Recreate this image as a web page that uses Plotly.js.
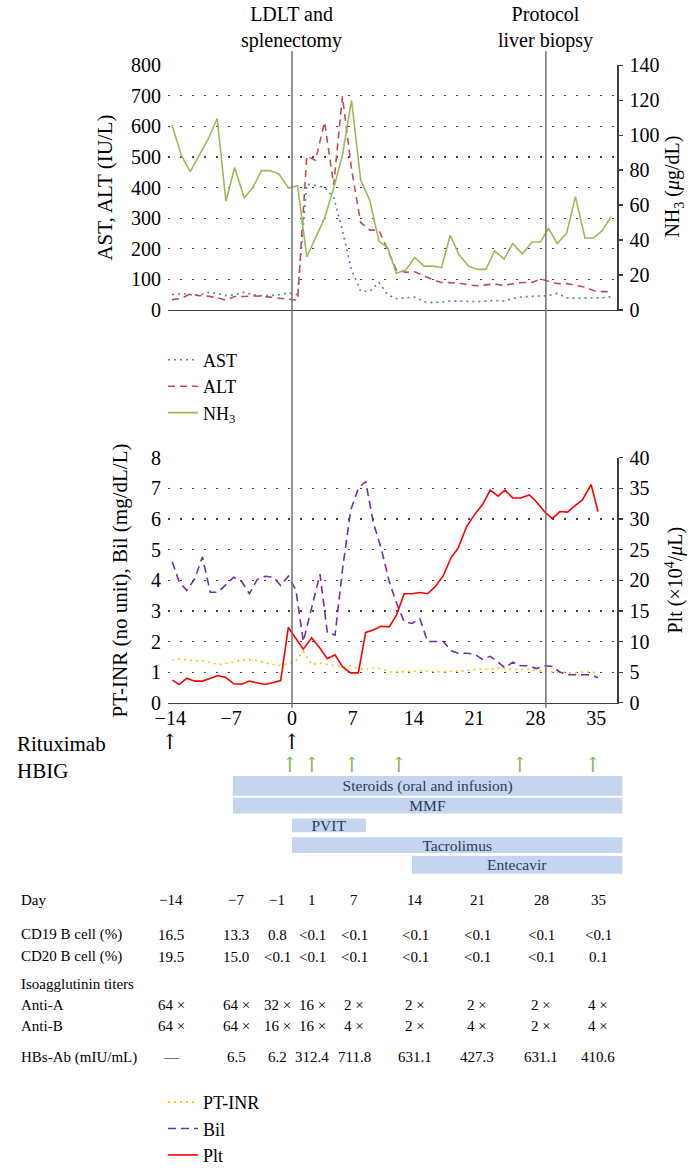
<!DOCTYPE html>
<html><head><meta charset="utf-8">
<script src="https://cdn.plot.ly/plotly-3.0.1.min.js"></script>
<style>html,body{margin:0;padding:0;background:#fff}#chart{width:688px;height:1174px}</style>
</head><body><div id="chart"></div>
<script>
// ---------- DATA ----------
const topDays = [-13.8,-12.7,-11.7,-10.7,-9.6,-8.6,-7.6,-6.6,-5.5,-4.5,-3.5,-2.5,-1.5,-0.4,0.65,1.7,2.7,3.75,4.8,5.8,6.85,7.9,8.95,10.0,11.0,12.0,13.1,14.1,15.2,16.2,17.2,18.2,19.2,20.3,21.3,22.3,23.3,24.4,25.4,26.5,27.6,28.6,29.5,30.5,31.6,32.6,33.7,34.7,35.7,36.7];
const astValues = [50,54,50,47,58,54,47,50,58,50,47,47,50,56,50,411,407,400,368,261,131,61,61,90,50,37,40,42,27,24,26,29,29,27,27,29,31,29,38,43,45,47,47,54,40,38,38,40,40,43];
const altValues = [34,38,53,47,45,40,32,44,44,46,45,42,38,34,32,503,489,614,409,698,460,286,261,261,195,131,123,125,111,99,90,88,88,82,79,82,85,80,86,90,90,101,93,86,86,80,75,63,60,60];
const nh3Values = [105.7,88.1,79.1,88.5,98.2,109.5,62.2,81.5,64.1,70.1,79.7,79.7,77.8,69.7,71.0,30.4,41.6,52.5,69.7,88.5,119.8,74.4,62.6,39.4,35.6,21.0,22.9,30.0,25.1,25.1,24.2,42.7,31.7,25.1,23.2,23.2,33.8,29.1,38.0,32.0,38.9,38.9,46.8,38.0,44.0,64.8,41.2,41.2,45.5,53.4];

const bottomDays = [-13.77,-12.96,-12.1,-11.2,-10.3,-9.4,-8.5,-7.6,-6.7,-5.8,-4.9,-4.0,-3.07,-2.15,-1.3,-0.42,0.46,1.3,2.26,3.22,4.06,4.95,5.83,6.75,7.63,8.47,9.36,10.24,11.2,12.04,12.9,13.8,14.7,15.6,16.5,17.4,18.3,19.1,20.1,21.0,21.9,22.8,23.7,24.5,25.4,26.3,27.3,28.1,29.1,29.95,30.8,31.7,32.6,33.4,34.4,35.2];
const inrValues = [1.39,1.43,1.41,1.38,1.38,1.33,1.25,1.28,1.33,1.40,1.41,1.38,1.30,1.25,1.22,1.28,1.38,1.68,1.25,1.30,1.25,1.22,1.16,1.22,1.12,1.09,1.14,1.12,1.01,1.01,1.01,1.03,1.05,1.03,1.01,1.01,1.03,1.03,1.05,1.09,1.11,1.09,1.14,1.12,1.09,1.09,1.09,1.06,1.03,1.01,1.01,0.98,0.98,1.01,1.01,0.98];
const bilValues = [4.60,3.94,3.67,4.04,4.76,3.61,3.61,3.85,4.10,3.96,3.56,4.02,4.13,4.10,3.83,4.13,3.67,2.0,3.08,4.20,2.30,2.21,4.4,6.28,7.0,7.22,5.87,5.06,3.94,3.24,2.65,2.59,2.75,2.0,2.0,2.0,1.70,1.62,1.62,1.59,1.42,1.52,1.33,1.14,1.33,1.21,1.21,1.12,1.21,1.19,1.01,0.92,0.92,0.92,0.92,0.82];
const pltValues = [3.71,3.0,4.03,3.55,3.55,3.98,4.46,4.14,3.12,3.06,3.55,3.28,3.0,3.33,3.65,12.3,10.5,8.76,10.6,8.9,7.2,7.85,5.86,4.9,4.9,11.5,11.9,12.5,12.4,14.4,17.8,17.8,18.0,17.8,19.0,20.75,23.7,25.2,28.8,30.7,32.3,34.7,33.7,34.7,33.4,33.4,33.9,32.8,31.1,30.05,31.2,31.1,32.2,33.1,35.6,31.2];

const dayTicks = [-14,-7,0,7,14,21,28,35];
const dayTickLabels = ['\u221214','\u22127','0','7','14','21','28','35'];

const eventDays = [0, 29.2];
const eventLabels = ['LDLT and<br>splenectomy','Protocol<br>liver biopsy'];

const rituximabDays = [-14, 0];
const hbigDays = [-0.2, 2.3, 6.9, 12.3, 26.2, 34.6];

const treatmentNames = ['Steroids (oral and infusion)','MMF','PVIT','Tacrolimus','Entecavir'];
const treatmentStart = [-6.8,-6.8,0,0,13.8];
const treatmentEnd = [38,38,8.5,38,38];

const tableRowLabels = ['Day','CD19 B cell (%)','CD20 B cell (%)','Isoagglutinin titers','Anti-A','Anti-B','HBs-Ab (mIU/mL)'];
const tableDays = ['\u221214','\u22127','\u22121','1','7','14','21','28','35'];
const cd19Values = ['16.5','13.3','0.8','<0.1','<0.1','<0.1','<0.1','<0.1','<0.1'];
const cd20Values = ['19.5','15.0','<0.1','<0.1','<0.1','<0.1','<0.1','<0.1','0.1'];
const antiAValues = ['64 \u00d7','64 \u00d7','32 \u00d7','16 \u00d7','2 \u00d7','2 \u00d7','2 \u00d7','2 \u00d7','4 \u00d7'];
const antiBValues = ['64 \u00d7','64 \u00d7','16 \u00d7','16 \u00d7','4 \u00d7','2 \u00d7','4 \u00d7','2 \u00d7','4 \u00d7'];
const hbsAbValues = ['\u2014','6.5','6.2','312.4','711.8','631.1','427.3','631.1','410.6'];

// ---------- LAYOUT HELPERS ----------
const W = 688, H = 1174;
const px = v => v / W;
const py = v => 1 - v / H;
const FONT = 'Liberation Serif';
const AXC = '#3f3f3f';
const xRange = [-14.26, 37.38];

const traces = [
  {x: topDays, y: astValues, name: 'AST', type: 'scatter', mode: 'lines', xaxis: 'x', yaxis: 'y',
   line: {color: '#4f81bd', width: 1.6, dash: '2px,4px'}, legend: 'legend'},
  {x: topDays, y: altValues, name: 'ALT', type: 'scatter', mode: 'lines', xaxis: 'x', yaxis: 'y',
   line: {color: '#c0504d', width: 1.6, dash: '7px,5px'}, legend: 'legend'},
  {x: topDays, y: nh3Values, name: 'NH<sub>3</sub>', type: 'scatter', mode: 'lines', xaxis: 'x', yaxis: 'y2',
   line: {color: '#9bbb59', width: 1.6}, legend: 'legend'},
  {x: bottomDays, y: inrValues, name: 'PT-INR', type: 'scatter', mode: 'lines', xaxis: 'x2', yaxis: 'y3',
   line: {color: '#ffc000', width: 1.6, dash: '2px,4px'}, legend: 'legend2'},
  {x: bottomDays, y: bilValues, name: 'Bil', type: 'scatter', mode: 'lines', xaxis: 'x2', yaxis: 'y3',
   line: {color: '#7030a0', width: 1.6, dash: '8px,5px'}, legend: 'legend2'},
  {x: bottomDays, y: pltValues, name: 'Plt', type: 'scatter', mode: 'lines', xaxis: 'x2', yaxis: 'y4',
   line: {color: '#ff0000', width: 1.6}, legend: 'legend2'},
  {type: 'bar', orientation: 'h', xaxis: 'x3', yaxis: 'y5',
   y: treatmentNames.map((_, i) => i),
   base: treatmentStart,
   x: treatmentEnd.map((e, i) => e - treatmentStart[i]),
   width: [1.0, 0.8, 0.7, 0.8, 0.9],
   text: treatmentNames, textposition: 'inside', insidetextanchor: 'middle', constraintext: 'none',
   textfont: {family: FONT, size: 15.5, color: '#2c3a5c'},
   marker: {color: '#c5d5ed', line: {width: 0}}, showlegend: false, hoverinfo: 'skip'}
];

const gridDash = '1.5px,10.5px';
const leftAxis = (dom, range, dtick) => ({
  domain: dom, range: range, dtick: dtick, showgrid: true, gridcolor: '#444', gridwidth: 1.2, griddash: gridDash,
  zeroline: false, showline: false, ticks: '', ticklabelstandoff: 6,
  tickfont: {family: FONT, size: 20, color: '#000'}, fixedrange: true
});
const rightAxis = (overlay, range, dtick) => ({
  overlaying: overlay, side: 'right', range: range, dtick: dtick, showgrid: false, zeroline: false,
  showline: true, linecolor: AXC, linewidth: 1.5, ticks: 'outside', ticklen: 4, tickcolor: AXC, tickwidth: 1.2,
  ticklabelstandoff: 3, tickfont: {family: FONT, size: 20, color: '#000'}, fixedrange: true
});

const topDom = [py(314), py(66)];
const botDom = [py(712), py(463.5)];
const xDom = [px(168), px(617)];

const annotations = [];
eventDays.forEach((d, i) => annotations.push({
  xref: 'x', yref: 'paper', x: d, y: py(28), xanchor: 'center', yanchor: 'middle', showarrow: false,
  text: eventLabels[i], font: {family: FONT, size: 20, color: '#000'}
}));
annotations.push({xref: 'paper', yref: 'paper', x: px(105), y: py(190), textangle: -90, showarrow: false,
  xanchor: 'center', yanchor: 'middle', text: 'AST, ALT (IU/L)', font: {family: FONT, size: 21, color: '#000'}});
annotations.push({xref: 'paper', yref: 'paper', x: px(674), y: py(189), textangle: -90, showarrow: false,
  xanchor: 'center', yanchor: 'middle', text: 'NH<sub>3</sub> (<i>\u03bc</i>g/dL)', font: {family: FONT, size: 20, color: '#000'}});
annotations.push({xref: 'paper', yref: 'paper', x: px(120), y: py(588), textangle: -90, showarrow: false,
  xanchor: 'center', yanchor: 'middle', text: 'PT-INR (no unit), Bil (mg/dL/L)', font: {family: FONT, size: 21, color: '#000'}});
annotations.push({xref: 'paper', yref: 'paper', x: px(674), y: py(588), textangle: -90, showarrow: false,
  xanchor: 'center', yanchor: 'middle', text: 'Plt (\u00d710<sup>4</sup>/<i>\u03bc</i>L)', font: {family: FONT, size: 20, color: '#000'}});
annotations.push({xref: 'paper', yref: 'paper', x: px(15), y: py(754), xanchor: 'left', yanchor: 'middle',
  showarrow: false, text: 'Rituximab', font: {family: FONT, size: 21, color: '#000'}});
annotations.push({xref: 'paper', yref: 'paper', x: px(15), y: py(781), xanchor: 'left', yanchor: 'middle',
  showarrow: false, text: 'HBIG', font: {family: FONT, size: 21, color: '#000'}});
rituximabDays.forEach(d => annotations.push({xref: 'x2', yref: 'paper', x: d, y: py(752), xanchor: 'center',
  yanchor: 'middle', showarrow: false, text: '\u2191', font: {family: 'DejaVu Serif', size: 21, color: '#000'}}));
hbigDays.forEach(d => annotations.push({xref: 'x2', yref: 'paper', x: d, y: py(775), xanchor: 'center',
  yanchor: 'middle', showarrow: false, text: '\u2191', font: {family: 'DejaVu Serif', size: 21, color: '#8db356'}}));

const colX = [171.4, 236, 277, 312, 354, 415, 477, 541, 598];
const rowY = [911.7, 946.7, 969, 997, 1018, 1039, 1071];
const rowValues = [tableDays, cd19Values, cd20Values, null, antiAValues, antiBValues, hbsAbValues];
tableRowLabels.forEach((lab, r) => {
  annotations.push({xref: 'paper', yref: 'paper', x: px(19), y: py(rowY[r]), xanchor: 'left', yanchor: 'middle',
    showarrow: false, text: lab, font: {family: FONT, size: 15, color: '#000'}});
  if (rowValues[r]) rowValues[r].forEach((v, c) => annotations.push({xref: 'paper', yref: 'paper',
    x: px(colX[c]), y: py(rowY[r]), xanchor: 'center', yanchor: 'middle', showarrow: false,
    text: v.replace('<', '&lt;'), font: {family: FONT, size: 15, color: '#000'}}));
});

const shapes = eventDays.map(d => ({type: 'line', xref: 'x', yref: 'paper', x0: d, x1: d, y0: py(717), y1: py(52),
  line: {color: '#707070', width: 1.5}, layer: 'above'}));

const legendBase = {xanchor: 'left', yanchor: 'top', bgcolor: 'rgba(0,0,0,0)', borderwidth: 0,
  font: {family: FONT, size: 18, color: '#000'}, itemwidth: 30, tracegroupgap: 0};

const layout = {
  width: W, height: H, margin: {l: 0, r: 0, t: 0, b: 0}, paper_bgcolor: '#fff', plot_bgcolor: 'rgba(0,0,0,0)',
  showlegend: true, hovermode: false,
  legend: Object.assign({x: px(163), y: py(346)}, legendBase),
  legend2: Object.assign({x: px(163), y: py(1098)}, legendBase),
  xaxis: {domain: xDom, range: xRange, anchor: 'y', showticklabels: false, ticks: '', showgrid: false, zeroline: false,
    showline: true, linecolor: AXC, linewidth: 1.5, fixedrange: true},
  yaxis: Object.assign(leftAxis(topDom, [0, 800], 100), {anchor: 'x'}),
  yaxis2: Object.assign(rightAxis('y', [0, 140], 20), {anchor: 'x'}),
  xaxis2: {domain: xDom, range: xRange, anchor: 'y3', tickmode: 'array', tickvals: dayTicks, ticktext: dayTickLabels,
    ticks: '', ticklabelstandoff: -3, showgrid: false, zeroline: false, showline: true, linecolor: AXC, linewidth: 1.5,
    tickfont: {family: FONT, size: 20, color: '#000'}, fixedrange: true},
  yaxis3: Object.assign(leftAxis(botDom, [0, 8], 1), {anchor: 'x2'}),
  yaxis4: Object.assign(rightAxis('y3', [0, 40], 5), {anchor: 'x2'}),
  xaxis3: {domain: [px(168), px(630)], range: [-14.26, (630 - 292) / 8.694], anchor: 'y5', visible: false, fixedrange: true},
  yaxis5: {domain: [py(886), py(786)], range: [4.5, -0.5], anchor: 'x3', visible: false, fixedrange: true},
  annotations: annotations,
  shapes: shapes
};

Plotly.newPlot('chart', traces, layout, {staticPlot: true, displayModeBar: false});
</script>
</body></html>
